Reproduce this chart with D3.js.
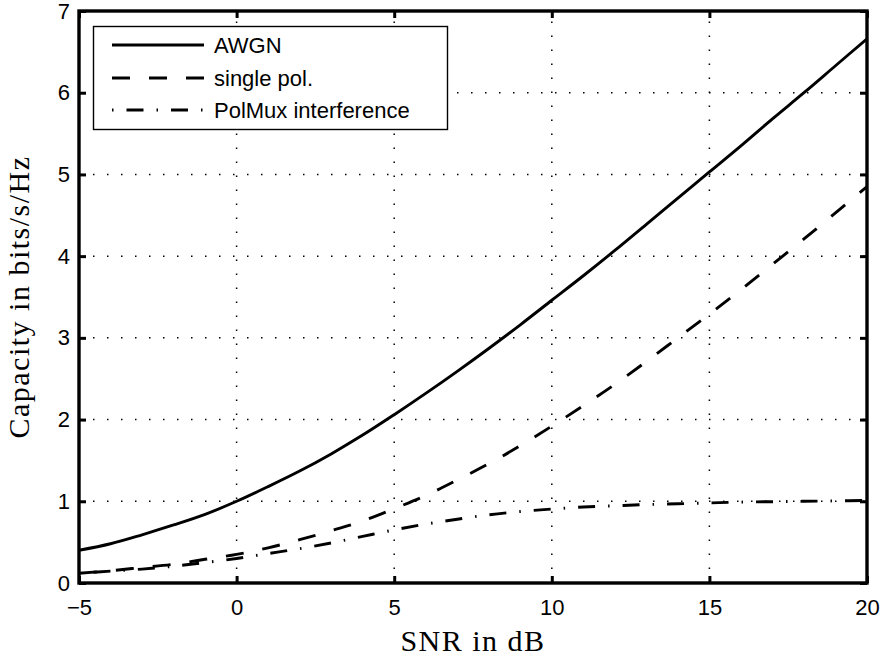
<!DOCTYPE html>
<html>
<head>
<meta charset="utf-8">
<script src="https://cdn.jsdelivr.net/npm/d3@7"></script>
<style>
  html, body { margin: 0; padding: 0; background: #fff; }
  svg { display: block; }
</style>
</head>
<body>
<svg id="chart" width="884" height="657"></svg>
<script>
// ---- data ----
const snrDb = [-5,-4,-3,-2,-1,0,1,2,3,4,5,6,7,8,9,10,11,12,13,14,15,16,17,18,19,20];
const awgn = [0.40,0.48,0.59,0.71,0.84,1.00,1.18,1.37,1.58,1.81,2.06,2.32,2.59,2.87,3.16,3.46,3.76,4.07,4.39,4.71,5.03,5.35,5.68,6.00,6.33,6.66];
const singlePol = [0.12,0.15,0.19,0.23,0.29,0.35,0.43,0.53,0.64,0.76,0.91,1.07,1.26,1.46,1.68,1.92,2.17,2.43,2.71,3.00,3.29,3.59,3.90,4.21,4.53,4.85];
const polMux = [0.12,0.145,0.17,0.205,0.25,0.30,0.36,0.42,0.49,0.57,0.65,0.72,0.78,0.835,0.875,0.905,0.93,0.945,0.96,0.97,0.98,0.99,0.995,1.0,1.005,1.01];
const seriesNames = ["AWGN", "single pol.", "PolMux interference"];
const xTicks = [-5, 0, 5, 10, 15, 20];
const yTicks = [0, 1, 2, 3, 4, 5, 6, 7];
const xLabel = "SNR in dB";
const yLabel = "Capacity in bits/s/Hz";

// ---- layout ----
const L = 79, R = 867, T = 11, B = 583;
const svg = d3.select("#chart");
const x = d3.scaleLinear().domain([-5, 20]).range([L, R]);
const y = d3.scaleLinear().domain([0, 7]).range([B, T]);
const fmt = d3.format("d");

svg.append("rect").attr("width", 884).attr("height", 657).attr("fill", "#fff");

// grid (dotted)
const grid = svg.append("g").attr("stroke", "#000").attr("stroke-width", 1.5)
  .attr("stroke-dasharray", "1.5,12.5");
grid.selectAll("line.gx").data(xTicks.filter(d => d > -5 && d < 20)).join("line")
  .attr("x1", d => x(d)).attr("x2", d => x(d)).attr("y1", B).attr("y2", T);
grid.selectAll("line.gy").data(yTicks.filter(d => d > 0 && d < 7)).join("line")
  .attr("y1", d => y(d)).attr("y2", d => y(d)).attr("x1", L).attr("x2", R);

// curves
svg.append("clipPath").attr("id", "clip").append("rect")
  .attr("x", L).attr("y", T).attr("width", R - L).attr("height", B - T);
const dashes = [null, "18,19", "1.5,13,17,13"];
const seriesData = [awgn, singlePol, polMux];
const line = d3.line().x((d, i) => x(snrDb[i])).y(d => y(d)).curve(d3.curveCatmullRom);
const curves = svg.append("g").attr("clip-path", "url(#clip)");
seriesData.forEach((s, k) => {
  curves.append("path").datum(s).attr("d", line)
    .attr("fill", "none").attr("stroke", "#000").attr("stroke-width", 2.9)
    .attr("stroke-dasharray", dashes[k]);
});

// axes with inward ticks
const fontTick = "'Liberation Sans', Arial, Helvetica, sans-serif";
function styleAxis(g) {
  g.select(".domain").remove();
  g.selectAll(".tick line").attr("stroke", "#000").attr("stroke-width", 3);
  g.selectAll(".tick text").attr("fill", "#000").style("font-family", fontTick).style("font-size", "22px");
}
svg.append("g").attr("transform", `translate(0,${B})`)
  .call(d3.axisBottom(x).tickValues(xTicks).tickSize(-7).tickPadding(16).tickFormat(fmt)).call(styleAxis);
svg.append("g").attr("transform", `translate(0,${T})`)
  .call(d3.axisTop(x).tickValues(xTicks).tickSize(-7).tickFormat("")).call(styleAxis);
svg.append("g").attr("transform", `translate(${L},0)`)
  .call(d3.axisLeft(y).tickValues(yTicks).tickSize(-7).tickPadding(9).tickFormat(fmt)).call(styleAxis);
svg.append("g").attr("transform", `translate(${R},0)`)
  .call(d3.axisRight(y).tickValues(yTicks).tickSize(-7).tickFormat("")).call(styleAxis);

// box
svg.append("rect").attr("x", L).attr("y", T).attr("width", R - L).attr("height", B - T)
  .attr("fill", "none").attr("stroke", "#000").attr("stroke-width", 3.4);

// axis titles
const fontTitle = "'Liberation Serif', 'Times New Roman', serif";
svg.append("text").attr("x", (L + R) / 2).attr("y", 651).attr("text-anchor", "middle")
  .style("font-family", fontTitle).style("font-size", "30px").style("letter-spacing", "1.5px")
  .attr("fill", "#000").text(xLabel);
svg.append("text").attr("transform", `translate(29,${(T + B) / 2}) rotate(-90)`)
  .attr("text-anchor", "middle")
  .style("font-family", fontTitle).style("font-size", "30px").style("letter-spacing", "1.5px")
  .attr("fill", "#000").text(yLabel);

// legend
const lg = svg.append("g");
lg.append("rect").attr("x", 93.5).attr("y", 26.5).attr("width", 354).attr("height", 103)
  .attr("fill", "#fff").attr("stroke", "#000").attr("stroke-width", 1.4);
const rowY = [45, 78, 110];
seriesNames.forEach((name, k) => {
  lg.append("line").attr("x1", 112).attr("x2", 204).attr("y1", rowY[k]).attr("y2", rowY[k])
    .attr("stroke", "#000").attr("stroke-width", 2.9).attr("stroke-dasharray", dashes[k]);
  lg.append("text").attr("x", 214).attr("y", rowY[k]).attr("dy", "0.36em")
    .style("font-family", fontTick).style("font-size", "22px").attr("fill", "#000").text(name);
});
</script>
</body>
</html>
